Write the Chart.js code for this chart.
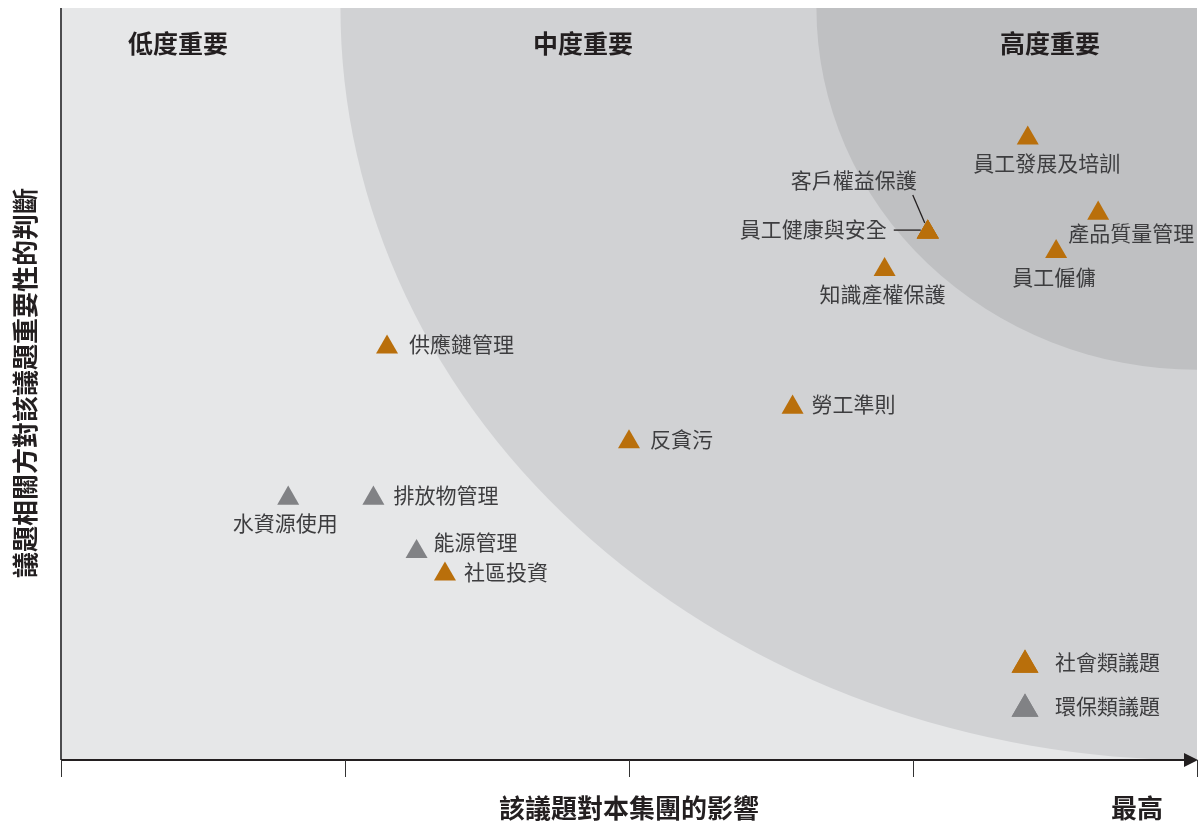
<!DOCTYPE html>
<html>
<head>
<meta charset="utf-8">
<script src="https://cdn.jsdelivr.net/npm/chart.js@4.4.0/dist/chart.umd.min.js"></script>
<style>
  html, body { margin: 0; padding: 0; background: #fff; }
  #wrap { width: 1202px; height: 825px; position: relative; }
</style>
</head>
<body>
<div id="wrap"><canvas id="matrix"></canvas></div>
<script>
// DATA
const socialIssues = ["員工發展及培訓", "產品質量管理", "員工健康與安全", "客戶權益保護", "員工僱傭", "知識產權保護", "供應鏈管理", "勞工準則", "反貪污", "社區投資"];
const socialImpact = [85.1, 91.3, 76.3, 76.3, 87.6, 72.5, 28.7, 64.4, 50.0, 33.8];
const socialImportance = [82.7, 72.7, 70.2, 70.2, 67.6, 65.2, 54.9, 46.9, 42.3, 24.7];

const envIssues = ["水資源使用", "排放物管理", "能源管理"];
const envImpact = [20.0, 27.5, 31.3];
const envImportance = [34.8, 34.8, 27.7];

const zoneLabels = ["低度重要", "中度重要", "高度重要"];
const legendLabels = ["社會類議題", "環保類議題"];
const xTicks = [0, 25, 50, 75, 100];

// LABEL LAYOUT (pixel offsets from the point)
const socialLabelPos = [
  { dx: 19, dy: 25, align: "center" },
  { dx: 33, dy: 20, align: "center" },
  { dx: -41, dy: -3, align: "right", lead: [[-34, -2], [-7, -2]] },
  { dx: -74, dy: -52, align: "center", lead: [[-15, -37], [-3, -9]] },
  { dx: -2, dy: 25, align: "center" },
  { dx: -2, dy: 24, align: "center" },
  { dx: 22, dy: -3, align: "left" },
  { dx: 19, dy: -3, align: "left" },
  { dx: 21, dy: -3, align: "left" },
  { dx: 19, dy: -2, align: "left" }
];
const envLabelPos = [
  { dx: -3, dy: 25, align: "center" },
  { dx: 20, dy: -3, align: "left" },
  { dx: 17, dy: -10, align: "left" }
];

const ORANGE = "#b96f0b";
const GREY = "#818285";
const CJK = '"Noto Sans CJK TC", "Noto Sans CJK SC", sans-serif';

function toPoints(xs, ys) {
  return xs.map((x, i) => ({ x: x, y: ys[i] }));
}

// BACKGROUND ZONES
const zonesPlugin = {
  id: "zones",
  beforeDatasetsDraw(chart) {
    const { ctx, chartArea: a } = chart;
    const w = a.right - a.left, h = a.bottom - a.top;
    ctx.save();
    ctx.beginPath();
    ctx.rect(a.left, a.top, w, h);
    ctx.clip();
    ctx.fillStyle = "#e6e7e8";
    ctx.fillRect(a.left, a.top, w, h);
    ctx.fillStyle = "#d1d2d4";
    ctx.beginPath();
    ctx.ellipse(a.right, a.top, w * 0.754, h, 0, 0, Math.PI * 2);
    ctx.fill();
    ctx.fillStyle = "#bfc0c2";
    ctx.beginPath();
    ctx.ellipse(a.right, a.top, w * 0.335, h * 0.481, 0, 0, Math.PI * 2);
    ctx.fill();
    ctx.restore();

    ctx.save();
    ctx.font = "bold 25px " + CJK;
    ctx.fillStyle = "#231f20";
    ctx.textAlign = "center";
    ctx.textBaseline = "middle";
    ctx.fillText(zoneLabels[0], a.left + 117, a.top + 35);
    ctx.fillText(zoneLabels[1], a.left + 522, a.top + 35);
    ctx.fillText(zoneLabels[2], a.left + 989, a.top + 35);
    ctx.restore();
  }
};

// AXES, LABELS, LEGEND
const overlayPlugin = {
  id: "overlay",
  afterDatasetsDraw(chart) {
    const { ctx, chartArea: a } = chart;
    const xs = chart.scales.x;
    ctx.save();

    // y axis line
    ctx.strokeStyle = "#4d4d4f";
    ctx.lineWidth = 2;
    ctx.beginPath();
    ctx.moveTo(a.left, a.top);
    ctx.lineTo(a.left, a.bottom);
    ctx.stroke();

    // x axis line + arrow
    ctx.strokeStyle = "#231f20";
    ctx.beginPath();
    ctx.moveTo(a.left, a.bottom);
    ctx.lineTo(a.right - 10, a.bottom);
    ctx.stroke();
    ctx.fillStyle = "#231f20";
    ctx.beginPath();
    ctx.moveTo(a.right + 1, a.bottom);
    ctx.lineTo(a.right - 13, a.bottom - 7);
    ctx.lineTo(a.right - 13, a.bottom + 7);
    ctx.closePath();
    ctx.fill();

    ctx.lineWidth = 1;
    ctx.strokeStyle = "#333";
    xTicks.forEach(t => {
      const px = Math.round(xs.getPixelForValue(t)) + 0.5;
      ctx.beginPath();
      ctx.moveTo(px, a.bottom);
      ctx.lineTo(px, a.bottom + 17);
      ctx.stroke();
    });

    // axis titles
    ctx.font = "bold 26px " + CJK;
    ctx.fillStyle = "#231f20";
    ctx.textAlign = "center";
    ctx.textBaseline = "middle";
    ctx.fillText("該議題對本集團的影響", xs.getPixelForValue(50), a.bottom + 48);
    ctx.fillText("最高", a.right - 60, a.bottom + 48);
    ctx.save();
    ctx.translate(25, 383);
    ctx.rotate(-Math.PI / 2);
    ctx.fillText("議題相關方對該議題重要性的判斷", 0, 0);
    ctx.restore();

    // point labels
    ctx.font = "21px " + CJK;
    ctx.fillStyle = "#3d3d3f";
    ctx.textBaseline = "middle";
    const sets = [[socialIssues, socialLabelPos], [envIssues, envLabelPos]];
    sets.forEach((s, di) => {
      const meta = chart.getDatasetMeta(di);
      meta.data.forEach((pt, i) => {
        const p = s[1][i];
        ctx.textAlign = p.align;
        ctx.fillText(s[0][i], pt.x + p.dx, pt.y + p.dy);
        if (p.lead) {
          ctx.strokeStyle = "#231f20";
          ctx.lineWidth = 1.3;
          ctx.beginPath();
          ctx.moveTo(pt.x + p.lead[0][0], pt.y + p.lead[0][1]);
          ctx.lineTo(pt.x + p.lead[1][0], pt.y + p.lead[1][1]);
          ctx.stroke();
        }
      });
    });
    // redraw the shared triangle over its leader lines
    const shared = chart.getDatasetMeta(0).data[2];
    ctx.fillStyle = ORANGE;
    Chart.helpers.drawPoint(ctx, { pointStyle: "triangle", radius: 12.7, borderWidth: 0 }, shared.x, shared.y);
    ctx.fill();

    // legend
    const lx = a.right - 172, ly = a.bottom - 95;
    [ORANGE, GREY].forEach((c, i) => {
      ctx.fillStyle = c;
      Chart.helpers.drawPoint(ctx, { pointStyle: "triangle", radius: 15.5, borderWidth: 0 }, lx, ly + i * 44);
      ctx.fill();
      ctx.fillStyle = "#3d3d3f";
      ctx.textAlign = "left";
      ctx.fillText(legendLabels[i], lx + 30, ly - 3 + i * 44);
    });

    ctx.restore();
  }
};

// CHART
new Chart(document.getElementById("matrix"), {
  type: "scatter",
  data: {
    datasets: [
      {
        label: legendLabels[0],
        data: toPoints(socialImpact, socialImportance),
        pointStyle: "triangle",
        pointRadius: 12.7,
        pointHoverRadius: 12.7,
        backgroundColor: ORANGE,
        borderWidth: 0
      },
      {
        label: legendLabels[1],
        data: toPoints(envImpact, envImportance),
        pointStyle: "triangle",
        pointRadius: 12.7,
        pointHoverRadius: 12.7,
        backgroundColor: GREY,
        borderWidth: 0
      }
    ]
  },
  options: {
    responsive: true,
    maintainAspectRatio: false,
    animation: false,
    layout: { autoPadding: false, padding: { left: 61, right: 5, top: 8, bottom: 65 } },
    plugins: { legend: { display: false }, tooltip: { enabled: false } },
    scales: {
      x: { display: false, min: 0, max: 100 },
      y: { display: false, min: 0, max: 100 }
    }
  },
  plugins: [zonesPlugin, overlayPlugin]
});
</script>
</body>
</html>
